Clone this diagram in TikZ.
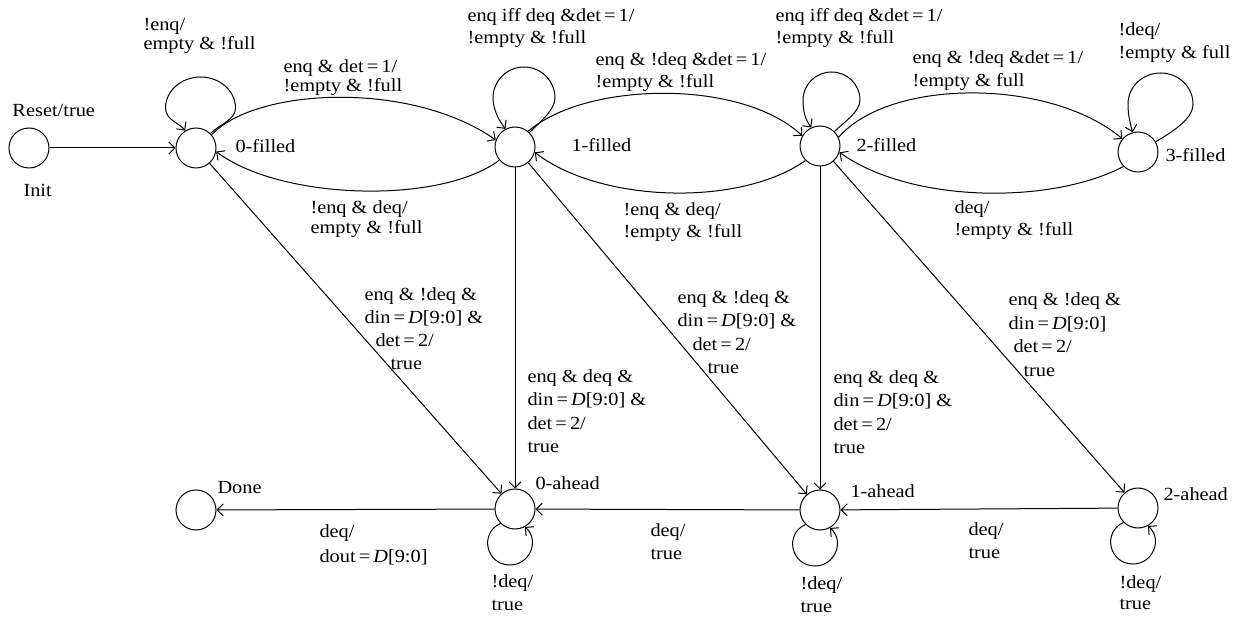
\documentclass[tikz,border=0pt]{standalone}
\usepackage{fontspec}
\setmainfont{Liberation Serif}[FakeStretch=1.1]
\usetikzlibrary{arrows.meta}
\newcommand\lf[1]{\fontsize{18.5pt}{#1pt}\selectfont}
\begin{document}
\begin{tikzpicture}[x=1pt,y=-1pt,line width=1pt,
  st/.style={circle,draw,minimum size=40pt,inner sep=0pt},
  arr/.style={-{Straight Barb[length=6pt,width=12pt]}},
  lab/.style={inner sep=0pt,align=left,anchor=north west},
  one/.style={inner sep=0pt,anchor=base west,font=\lf{22}}]
\useasboundingbox (0,0) rectangle (1242,617);
% states
\node[st] (init) at (29,148) {};
\node[st] (f0) at (196,148) {};
\node[st] (f1) at (515,147) {};
\node[st] (f2) at (820,146) {};
\node[st] (f3) at (1138,152) {};
\node[st] (done) at (196,510) {};
\node[st] (a0) at (515,509) {};
\node[st] (a1) at (820,510) {};
\node[st] (a2) at (1138,508) {};
% state names
\node[one] (nreset) at (12,117) {Reset/true};
\node[one] (ninit) at (23,197) {Init};
\node[one] (nf0) at (235,153) {0-filled};
\node[one] (nf1) at (571,152) {1-filled};
\node[one] (nf2) at (856,152) {2-filled};
\node[one] (nf3) at (1165,162) {3-filled};
\node[one] (ndone) at (217,493) {Done};
\node[one] (na0) at (535,489) {0-ahead};
\node[one] (na1) at (850,497) {1-ahead};
\node[one] (na2) at (1163,500) {2-ahead};
% loops above
\draw[arr] (f0.45) .. controls (220,124) and (235.5,120) .. (235.5,108)
                   .. controls (235.5,90.9) and (219.8,77) .. (200.5,77)
                   .. controls (181.2,77) and (165.5,90.9) .. (165.5,108)
                   .. controls (165.5,120) and (179.4,123) .. (f0.122);
\draw[arr] (f1.45) .. controls (539,123) and (555,110) .. (555,98)
                   .. controls (555,80.9) and (541.1,67) .. (524,67)
                   .. controls (506.9,67) and (493,80.9) .. (493,98)
                   .. controls (493,110) and (499.6,121.3) .. (f1.118);
\draw[arr] (f2.45) .. controls (843,123) and (860,112) .. (860,100)
                   .. controls (860,84.5) and (847.2,72) .. (831.5,72)
                   .. controls (815.8,72) and (803,84.5) .. (803,100)
                   .. controls (803,112) and (805.5,119.9) .. (f2.115);
\draw[arr] (f3.30) .. controls (1170,133) and (1193,120) .. (1193,104)
                   .. controls (1193,86.9) and (1178.5,73) .. (1160.5,73)
                   .. controls (1142.5,73) and (1128,86.9) .. (1128,104)
                   .. controls (1128,116) and (1130.2,123) .. (f3.105);
% loops below
\draw[arr] (a0.225) .. controls (479,533) and (486,565) .. (510,565)
                    .. controls (530,565) and (540,540) .. (a0.-61);
\draw[arr] (a1.225) .. controls (784,534) and (791,566) .. (815,566)
                    .. controls (835,566) and (845,541) .. (a1.-61);
\draw[arr] (a2.225) .. controls (1102,532) and (1109,564) .. (1133,564)
                    .. controls (1153,564) and (1163,539) .. (a2.-61);
% curved transitions
\draw[arr] (f0.40) .. controls (255,88) and (410,80) .. (f1.160);
\draw[arr] (f1.220) .. controls (440,205) and (280,200) .. (f0.-10);
\draw[arr] (f1.50) .. controls (585,82) and (740,78) .. (f2.150);
\draw[arr] (f2.225) .. controls (740,207) and (600,203) .. (f1.-15);
\draw[arr] (f2.25) .. controls (890,78) and (1050,78) .. (f3.140);
\draw[arr] (f3.225) .. controls (1050,205) and (910,203) .. (f2.-18);
% straight transitions
\draw[arr] (init) -- (f0);
\draw[arr] (f0) -- (a0);
\draw[arr] (f1) -- (a0);
\draw[arr] (f1) -- (a1);
\draw[arr] (f2) -- (a1);
\draw[arr] (f2) -- (a2);
\draw[arr] (a2) -- (a1);
\draw[arr] (a1) -- (a0);
\draw[arr] (a0) -- (done);
% transition labels
\node[lab,font=\lf{19}] (l00) at (143,16.7) {\strut!enq/\\empty \& !full};
\node[lab,font=\lf{19}] (l01) at (283,58.7) {\strut enq \& det\,=\,1/\\!empty \& !full};
\node[lab,font=\lf{20}] (l10) at (310,199) {\strut!enq \& deq/\\empty \& !full};
\node[lab,font=\lf{22}] (l11) at (467,5.6) {\strut enq iff deq \&det\,=\,1/\\!empty \& !full};
\node[lab,font=\lf{22}] (l12) at (595,49.6) {\strut enq \& !deq \&det\,=\,1/\\!empty \& !full};
\node[lab,font=\lf{22}] (l21) at (623,199.6) {\strut!enq \& deq/\\!empty \& !full};
\node[lab,font=\lf{22}] (l22) at (775,5.6) {\strut enq iff deq \&det\,=\,1/\\!empty \& !full};
\node[lab,font=\lf{23}] (l23) at (912,47) {\strut enq \& !deq \&det\,=\,1/\\!empty \& full};
\node[lab,font=\lf{22}] (l32) at (954,197.6) {\strut deq/\\!empty \& !full};
\node[lab,font=\lf{23}] (l33) at (1118,18.9) {\strut!deq/\\!empty \& full};
\node[lab,font=\lf{23}] (l0a0) at (364,283.9) {\strut enq \& !deq \&\\din\,=\,\textit{D}[9:0] \&\\\hspace*{11pt}det\,=\,2/\\\hspace*{26pt}true};
\node[lab,font=\lf{23.3}] (l1a0) at (527,365.7) {\strut enq \& deq \&\\din\,=\,\textit{D}[9:0] \&\\det\,=\,2/\\true};
\node[lab,font=\lf{23.3}] (l1a1) at (677,286.7) {\strut enq \& !deq \&\\din\,=\,\textit{D}[9:0] \&\\\hspace*{15pt}det\,=\,2/\\\hspace*{30pt}true};
\node[lab,font=\lf{23.3}] (l2a1) at (833,366.7) {\strut enq \& deq \&\\din\,=\,\textit{D}[9:0] \&\\det\,=\,2/\\true};
\node[lab,font=\lf{23.7}] (l2a2) at (1008,288.4) {\strut enq \& !deq \&\\din\,=\,\textit{D}[9:0]\\\hspace*{5pt}det\,=\,2/\\\hspace*{15pt}true};
\node[lab,font=\lf{23}] (la21) at (968,518.9) {\strut deq/\\true};
\node[lab,font=\lf{23}] (la10) at (650,519.9) {\strut deq/\\true};
\node[lab,font=\lf{25}] (la0d) at (319,519.5) {\strut deq/\\dout\,=\,\textit{D}[9:0]};
\node[lab,font=\lf{23}] (lla0) at (491,570.9) {\strut!deq/\\true};
\node[lab,font=\lf{23}] (lla1) at (800,572.9) {\strut!deq/\\true};
\node[lab,font=\lf{21}] (lla2) at (1119,573.3) {\strut!deq/\\true};
\end{tikzpicture}
\end{document}
